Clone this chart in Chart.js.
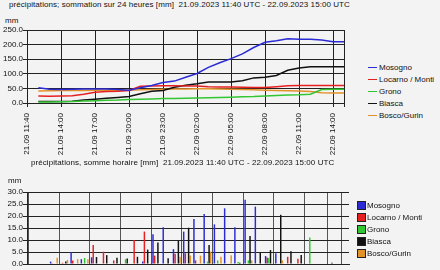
<!DOCTYPE html>
<html lang="fr">
<head>
<meta charset="UTF-8">
<title>Précipitations 21.09.2023 - 22.09.2023</title>
<script src="https://cdn.jsdelivr.net/npm/chart.js@4.4.0/dist/chart.umd.min.js"></script>
<style>
    body {
        margin: 0;
        background: #f3f3f3;
        font-family: Arial, 'Liberation Sans', sans-serif;
        color: #111;
    }
    #page {
        position: relative;
        width: 440px;
        height: 270px;
        overflow: hidden;
    }
    .txt {
        position: absolute;
        font-size: 8px;
        line-height: 10px;
        white-space: pre;
    }
    .title {
        letter-spacing: 0.07px;
    }
    canvas {
        position: absolute;
        left: 0;
    }
    .legend {
        position: absolute;
        font-size: 8px;
    }
    .legend div {
        height: 12px;
        line-height: 12px;
        white-space: nowrap;
    }
    .legend .line {
        display: inline-block;
        width: 9px;
        height: 1px;
        vertical-align: middle;
        margin-right: 2px;
    }
    .legend .box {
        display: inline-block;
        width: 7px;
        height: 7px;
        border: 1px solid #222;
        vertical-align: middle;
        margin-right: 1px;
    }
</style>
</head>
<body>
<div id="page">
    <div class="txt title" style="left:9px;top:0px">précipitations; sommation sur 24 heures [mm]  21.09.2023 11:40 UTC - 22.09.2023 15:00 UTC</div>
    <div class="txt" style="left:5px;top:16px">mm</div>
    <canvas id="sumChart" width="360" height="160" style="top:0px"></canvas>
    <div id="sumLegend" class="legend" style="left:368px;top:62px"></div>

    <div class="txt title" style="left:31px;top:158px">précipitations, somme horaire [mm]  21.09.2023 11:40 UTC - 22.09.2023 15:00 UTC</div>
    <div class="txt" style="left:8px;top:176px">mm</div>
    <canvas id="hourChart" width="360" height="110" style="top:160px"></canvas>
    <div id="hourLegend" class="legend" style="left:357px;top:200px"></div>
</div>

<script>
    // time axis: first point is the start of the period, then hourly
    const hours = [
        '21.09 11:40', '21.09 12:00', '21.09 13:00', '21.09 14:00', '21.09 15:00',
        '21.09 16:00', '21.09 17:00', '21.09 18:00', '21.09 19:00', '21.09 20:00',
        '21.09 21:00', '21.09 22:00', '21.09 23:00', '22.09 00:00', '22.09 01:00',
        '22.09 02:00', '22.09 03:00', '22.09 04:00', '22.09 05:00', '22.09 06:00',
        '22.09 07:00', '22.09 08:00', '22.09 09:00', '22.09 10:00', '22.09 11:00',
        '22.09 12:00', '22.09 13:00', '22.09 14:00', '22.09 15:00'
    ];

    const stations = ['Mosogno', 'Locarno / Monti', 'Grono', 'Biasca', 'Bosco/Gurin'];
    const colors = ['#2b2bd6', '#e62020', '#33c633', '#111111', '#e3922a'];

    // 24h sums [mm], one value per entry of hours
    const sumMosogno = [null, 52, 47, 46, 47, 48, 48, 48, 46, 44, 52, 60, 70, 75, 88, 101, 122, 138, 152, 168, 190, 208, 213, 220, 218, 218, 216, 210, 210];
    const sumLocarno = [null, 24, 23, 24, 25, 30, 37, 39, 40, 43, 57, 58, 59, 59, 58, 58, 56, 55, 55, 54, 53, 53, 56, 59, 60, 60, 60, 60, 60];
    const sumGrono   = [null, 3, 3, 4, 5, 7, 8, 9, 10, 12, 13, 14, 15, 15, 16, 17, 18, 19, 20, 21, 22, 24, 26, 27, 28, 30, 46, 47, 47];
    const sumBiasca  = [null, 5, 5, 5, 6, 10, 13, 16, 19, 22, 32, 40, 43, 54, 61, 66, 72, 72, 72, 76, 86, 88, 94, 112, 120, 124, 124, 124, 124];
    const sumBosco   = [null, 41, 42, 43, 43, 43, 44, 44, 44, 44, 45, 46, 47, 48, 48, 49, 49, 48, 47, 46, 45, 44, 43, 42, 41, 39, 35, 34, 34];

    // hourly sums [mm], hours 12:00 .. 15:00 (hours[1..28])
    const hrMosogno = [1.0, 0, 4.9, 2.0, 2.8, 0, 0, 0, 0, 1.0, 12.4, 15.3, 6.2, 13.5, 18.7, 20.8, 16.5, 23.2, 15.3, 26.8, 23.9, 3.3, 4.5, 0, 0, 0, 0, 0];
    const hrLocarno = [0.3, 0.5, 1.5, 0, 7.9, 5.1, 1.5, 0, 10.0, 13.5, 3.5, 0, 4.3, 4.5, 1.5, 0, 0, 0, 0, 0, 0, 2.7, 0, 3.0, 2.2, 0, 0, 0];
    const hrGrono   = [0, 0, 0, 2.5, 0, 0, 0, 2.0, 0, 0, 0, 0, 0, 0, 0, 1.0, 1.5, 0, 0.8, 1.5, 0, 2.5, 0, 0, 0, 11.0, 0, 0];
    const hrBiasca  = [0, 1.0, 0, 0, 2.9, 3.7, 2.6, 2.3, 3.0, 6.0, 9.0, 2.4, 9.6, 15.1, 0, 7.9, 0, 0, 0.5, 11.7, 4.7, 5.8, 20.5, 5.3, 3.8, 0, 0, 0.5];
    const hrBosco   = [2.6, 1.7, 2.0, 2.0, 0, 0, 0, 0, 0, 0, 0, 0, 3.0, 3.5, 3.5, 5.1, 3.0, 3.6, 0, 1.5, 0, 0, 1.5, 0, 0, 0, 0, 0];

    const sumSeries = [sumMosogno, sumLocarno, sumGrono, sumBiasca, sumBosco];
    const hourSeries = [hrMosogno, hrLocarno, hrGrono, hrBiasca, hrBosco];

    Chart.defaults.font.family = "Arial, 'Liberation Sans', sans-serif";
    Chart.defaults.font.size = 8;
    Chart.defaults.color = '#111';

    const gridColor = '#222';
    const last = hours.length - 1;

    // grid every 3 hours, plus a closing line on the right
    const gridHours = hours.map((h, i) => i).filter(i => i % 3 === 0);

    // 24h sums, lines on an hour index axis
    new Chart(document.getElementById('sumChart'), {
        type: 'line',
        data: {
            datasets: stations.map((name, k) => ({
                label: name,
                data: sumSeries[k].map((v, i) => ({ x: i, y: v })),
                borderColor: colors[k],
                borderWidth: 1.5,
                pointRadius: 0,
                tension: 0
            }))
        },
        options: {
            responsive: false,
            animation: false,
            devicePixelRatio: 1,
            layout: { padding: { top: 30, right: 7.5, left: 0, bottom: 0 } },
            plugins: { legend: { display: false }, tooltip: { enabled: false } },
            scales: {
                x: {
                    type: 'linear',
                    min: 0,
                    max: last,
                    afterBuildTicks: s => { s.ticks = gridHours.concat([last]).map(v => ({ value: v })); },
                    afterFit: s => { s.height = 57; },
                    border: { color: '#222' },
                    grid: { color: gridColor, tickColor: gridColor, tickLength: 4, lineWidth: 1 },
                    ticks: {
                        autoSkip: false,
                        minRotation: 90,
                        maxRotation: 90,
                        padding: 6,
                        callback: v => v % 3 === 0 ? hours[v] : ''
                    }
                },
                y: {
                    min: 0,
                    max: 250,
                    afterFit: s => { s.width = 27; },
                    border: { color: '#222' },
                    grid: { color: gridColor, tickColor: gridColor, tickLength: 4, lineWidth: 1 },
                    ticks: {
                        autoSkip: false,
                        stepSize: 50,
                        padding: 0,
                        callback: v => v.toFixed(1)
                    }
                }
            }
        }
    });

    // hourly sums, grouped bars on the same hour index axis
    new Chart(document.getElementById('hourChart'), {
        type: 'bar',
        data: {
            datasets: stations.map((name, k) => ({
                label: name,
                data: hourSeries[k].map((v, j) => ({ x: j + 1, y: v })),
                backgroundColor: colors[k],
                borderWidth: 0
            }))
        },
        options: {
            responsive: false,
            animation: false,
            devicePixelRatio: 1,
            layout: { padding: { top: 32, right: 11, left: 0, bottom: 0 } },
            plugins: { legend: { display: false }, tooltip: { enabled: false } },
            scales: {
                x: {
                    type: 'linear',
                    min: -0.2,
                    max: last + 0.4,
                    afterBuildTicks: s => { s.ticks = gridHours.concat([last + 0.4]).map(v => ({ value: v })); },
                    afterFit: s => { s.height = 6; },
                    border: { color: '#222' },
                    grid: { color: '#555', drawTicks: false },
                    ticks: { display: false }
                },
                y: {
                    min: 0,
                    max: 30,
                    afterFit: s => { s.width = 27; },
                    border: { color: '#222' },
                    grid: { color: gridColor, tickColor: gridColor, tickLength: 4, lineWidth: 1 },
                    ticks: {
                        autoSkip: false,
                        stepSize: 5,
                        padding: 0,
                        callback: v => v.toFixed(1)
                    }
                }
            }
        }
    });

    // legends
    document.getElementById('sumLegend').innerHTML = stations.map((name, k) =>
        `<div><span class="line" style="background:${colors[k]}"></span>${name}</div>`).join('');
    document.getElementById('hourLegend').innerHTML = stations.map((name, k) =>
        `<div><span class="box" style="background:${colors[k]}"></span>${name}</div>`).join('');
</script>
</body>
</html>
